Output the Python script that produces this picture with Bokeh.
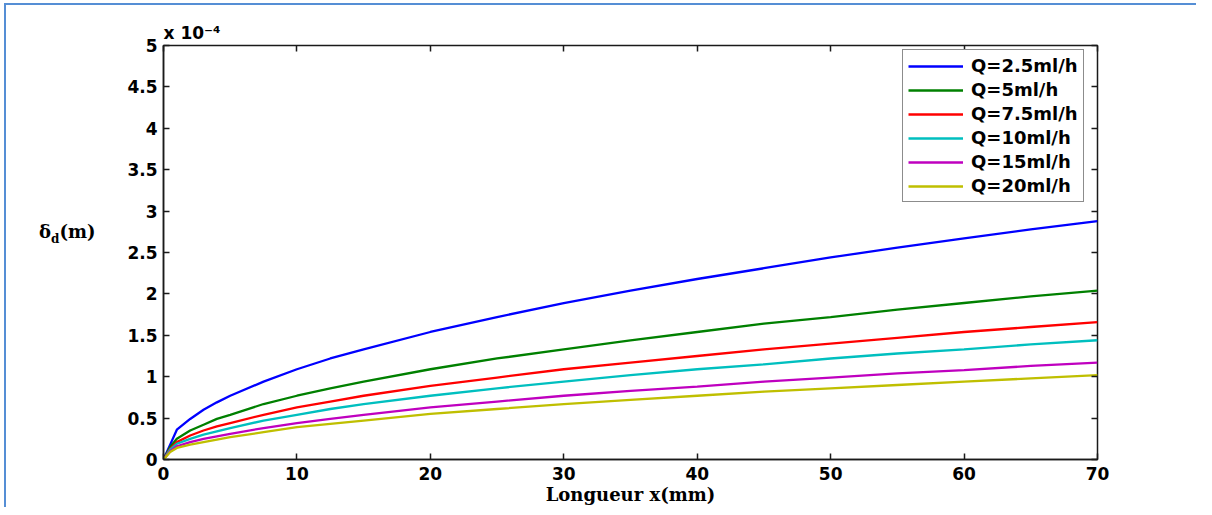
from bokeh.plotting import figure
from bokeh.models import (Range1d, FixedTicker, LinearAxis, Legend, LegendItem,
                          Title, Div, CustomJSTickFormatter)
from bokeh.layouts import row
from bokeh.embed import file_html
from bokeh.resources import INLINE

# ---- data (delta_d in units of 1e-4 m) ----
x_mm = [0, 0.5, 1, 2, 3, 4, 5, 7.5, 10, 12.5, 15, 20, 25, 30, 35, 40, 45, 50, 55, 60, 65, 70]
q_2_5 = [0, 0.18, 0.36, 0.49, 0.60, 0.69, 0.77, 0.94, 1.09, 1.22, 1.33, 1.54, 1.72, 1.89, 2.04, 2.18, 2.31, 2.44, 2.56, 2.67, 2.78, 2.88]
q_5 = [0, 0.15, 0.25, 0.35, 0.42, 0.49, 0.54, 0.67, 0.77, 0.86, 0.94, 1.09, 1.22, 1.33, 1.44, 1.54, 1.64, 1.72, 1.81, 1.89, 1.97, 2.04]
q_7_5 = [0, 0.13, 0.21, 0.29, 0.35, 0.40, 0.44, 0.54, 0.63, 0.70, 0.77, 0.89, 0.99, 1.09, 1.17, 1.25, 1.33, 1.40, 1.47, 1.54, 1.60, 1.66]
q_10 = [0, 0.12, 0.19, 0.25, 0.30, 0.34, 0.38, 0.47, 0.54, 0.61, 0.67, 0.77, 0.86, 0.94, 1.02, 1.09, 1.15, 1.22, 1.28, 1.33, 1.39, 1.44]
q_15 = [0, 0.10, 0.16, 0.21, 0.25, 0.28, 0.31, 0.38, 0.44, 0.49, 0.54, 0.63, 0.70, 0.77, 0.83, 0.88, 0.94, 0.99, 1.04, 1.08, 1.13, 1.17]
q_20 = [0, 0.09, 0.14, 0.18, 0.21, 0.24, 0.27, 0.33, 0.39, 0.43, 0.47, 0.55, 0.61, 0.67, 0.72, 0.77, 0.82, 0.86, 0.90, 0.94, 0.98, 1.02]

series_labels = ["Q=2.5ml/h", "Q=5ml/h", "Q=7.5ml/h", "Q=10ml/h", "Q=15ml/h", "Q=20ml/h"]
series_colors = ["#0000FF", "#008000", "#FF0000", "#00BFBF", "#BF00BF", "#BFBF00"]
series_values = [q_2_5, q_5, q_7_5, q_10, q_15, q_20]

x_ticks = [0, 10, 20, 30, 40, 50, 60, 70]
y_ticks = [0, 0.5, 1, 1.5, 2, 2.5, 3, 3.5, 4, 4.5, 5]
y_tick_labels = ["0", "0.5", "1", "1.5", "2", "2.5", "3", "3.5", "4", "4.5", "5"]
y_scale_text = "x 10⁻⁴"

TICK_FONT = "DejaVu Sans"
SERIF = "DejaVu Serif"

LEFT_W = 114
p = figure(width=1076, height=502, output_backend="svg", toolbar_location=None,
           x_range=Range1d(0, 70), y_range=Range1d(0, 5),
           min_border_left=43, min_border_right=99, min_border_top=40, min_border_bottom=47,
           background_fill_color="white", border_fill_color="white")
p.grid.visible = False
p.outline_line_color = "#1a1a1a"
p.outline_line_width = 1.5

for ax in (p.xaxis[0], p.yaxis[0]):
    ax.major_tick_in = 6
    ax.major_tick_out = 0
    ax.minor_tick_line_color = None
    ax.axis_line_color = "#1a1a1a"
    ax.axis_line_width = 1.5
    ax.major_tick_line_color = "#1a1a1a"
    ax.major_tick_line_width = 1.5
    ax.major_label_text_font = TICK_FONT
    ax.major_label_text_font_style = "bold"
    ax.major_label_text_font_size = "17px"
    ax.major_label_text_color = "black"

p.xaxis[0].ticker = FixedTicker(ticks=x_ticks)
p.xaxis[0].major_label_standoff = 7
p.xaxis[0].axis_label = "Longueur x(mm)"
p.xaxis[0].axis_label_text_font = SERIF
p.xaxis[0].axis_label_text_font_style = "bold"
p.xaxis[0].axis_label_text_font_size = "18px"
p.xaxis[0].axis_label_text_color = "black"
p.xaxis[0].axis_label_standoff = 1

p.yaxis[0].ticker = FixedTicker(ticks=y_ticks)
p.yaxis[0].major_label_overrides = {t: l for t, l in zip(y_ticks, y_tick_labels)}
p.yaxis[0].major_label_standoff = 6

blank = CustomJSTickFormatter(code="return '';")
top_ax = LinearAxis(ticker=FixedTicker(ticks=x_ticks), formatter=blank)
right_ax = LinearAxis(ticker=FixedTicker(ticks=y_ticks), formatter=blank)
for ax in (top_ax, right_ax):
    ax.major_tick_in = 6
    ax.major_tick_out = 0
    ax.minor_tick_line_color = None
    ax.axis_line_color = None
    ax.major_tick_line_color = "#1a1a1a"
    ax.major_tick_line_width = 1.5
    ax.major_label_text_font_size = "1px"
p.add_layout(top_ax, "above")
p.add_layout(right_ax, "right")

# scale factor above the y axis
p.add_layout(Title(text=y_scale_text, align="left", offset=0, standoff=6,
                   text_font=TICK_FONT, text_font_style="bold", text_font_size="17px",
                   text_color="black"), "above")

items = []
for lab, col, vals in zip(series_labels, series_colors, series_values):
    r = p.line(x_mm, vals, line_color=col, line_width=2.3)
    items.append(LegendItem(label=lab, renderers=[r]))

legend = Legend(items=items, location=(739, 257))
legend.label_text_font = TICK_FONT
legend.label_text_font_style = "bold"
legend.label_text_font_size = "18px"
legend.label_text_color = "black"
legend.glyph_width = 55
legend.glyph_height = 20
legend.label_height = 20
legend.spacing = 3
legend.padding = 5
legend.label_standoff = 8
legend.border_line_color = "#1a1a1a"
legend.border_line_width = 1.5
legend.background_fill_alpha = 1.0
p.add_layout(legend, "center")

# y label  delta_d(m), horizontal, left of the axis
ylab = Div(width=LEFT_W, height=502, margin=0,
           text=('<div style="margin-top:214px;margin-left:33px;white-space:nowrap;'
                 'font-family:\'DejaVu Serif\';font-weight:bold;font-size:18px;color:black">'
                 'δ<sub style="font-size:12px">d</sub>(m)</div>'))

layout = row(ylab, p, spacing=0,
             styles={"border-top": "2px solid #558ed5", "border-left": "2px solid #558ed5",
                     "margin-top": "3px", "margin-left": "4px"})
open("out.html", "w").write(file_html(layout, INLINE))
